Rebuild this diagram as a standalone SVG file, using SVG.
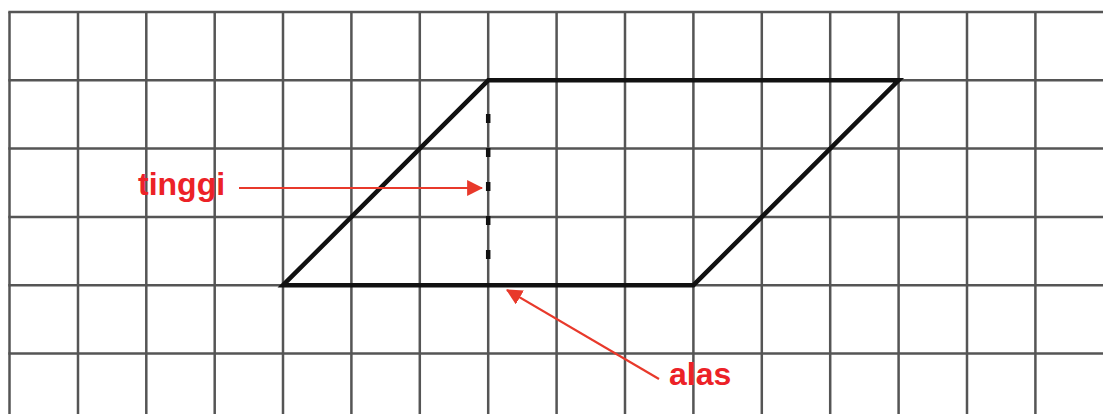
<svg xmlns="http://www.w3.org/2000/svg" width="1103" height="414" viewBox="0 0 1103 414">
<style>
.grid{stroke:#555;stroke-width:2.5;fill:none}
.shape{stroke:#111;stroke-width:4.5;fill:none;stroke-linejoin:miter}
.dash{stroke:#111;stroke-width:4.5;stroke-dasharray:9 25}
.lbl{font-family:"Liberation Sans",Arial,sans-serif;font-weight:bold;font-size:32px;fill:#ec2227}
.arr{stroke:#e8392b;stroke-width:2.2;fill:none}
</style>
<defs>
<marker id="ah" viewBox="0 0 14 14" refX="13" refY="7" markerWidth="16" markerHeight="16" markerUnits="userSpaceOnUse" orient="auto">
<path d="M0,0 L14,7 L0,14 Z" fill="#e8392b"/>
</marker>
</defs>
<rect width="1103" height="414" fill="#fff"/>
<g id="grid" class="grid">
<path d="M9.5,12V414M78,12V414M146.3,12V414M214.7,12V414M283,12V414M351.4,12V414M419.8,12V414M488.2,12V414M556.6,12V414M625,12V414M693.4,12V414M761.8,12V414M830.2,12V414M898.6,12V414M967,12V414M1035.4,12V414"/>
<path d="M8.3,12H1103M8.3,80.3H1103M8.3,148.6H1103M8.3,216.9H1103M8.3,285.2H1103M8.3,353.5H1103"/>
</g>
<g id="parallelogram">
<path class="shape" d="M283,285.2 L488.2,80.3 L898.6,80.3 L693.4,285.2 Z"/>
</g>
<g id="height">
<line class="dash" x1="488.2" y1="114" x2="488.2" y2="287"/>
</g>
<g id="connectors">
<line class="arr" x1="239" y1="188" x2="482" y2="188" marker-end="url(#ah)"/>
<line class="arr" x1="659" y1="379" x2="507" y2="290" marker-end="url(#ah)"/>
</g>
<g id="label-tinggi"><text class="lbl" x="138" y="195">tinggi</text></g>
<g id="label-alas"><text class="lbl" x="669" y="385">alas</text></g>
</svg>
